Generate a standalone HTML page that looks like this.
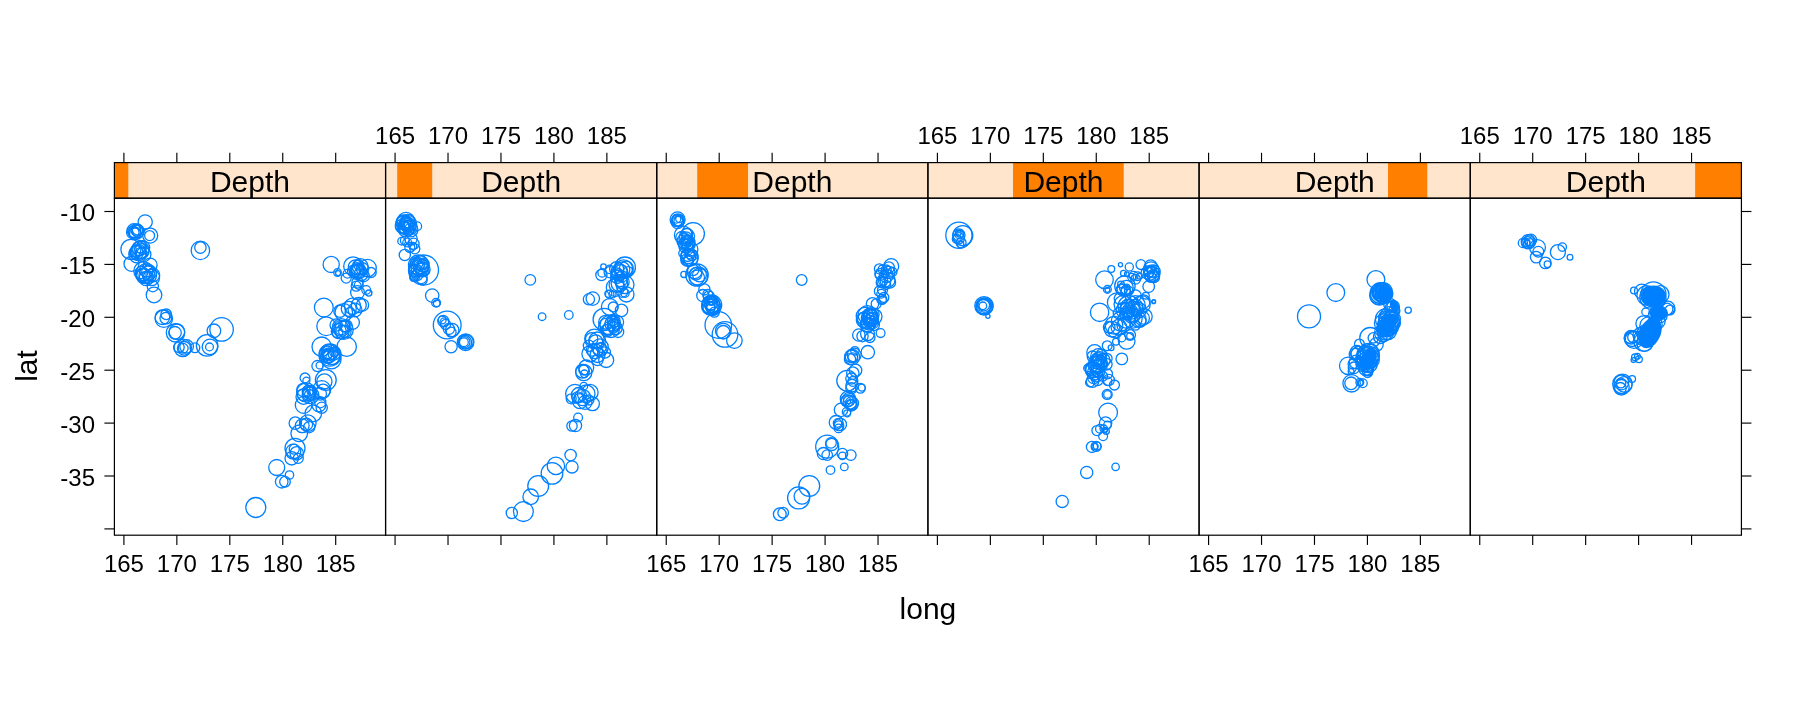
<!DOCTYPE html><html><head><meta charset="utf-8"><style>html,body{margin:0;padding:0;background:#fff;}svg{display:block;will-change:transform;}text{font-family:"Liberation Sans",sans-serif;fill:#000;}</style></head><body>
<svg width="1800" height="720" viewBox="0 0 1800 720">
<rect width="1800" height="720" fill="#fff"/>
<rect x="114.40" y="162.6" width="271.17" height="35.60" fill="#ffe5cc"/>
<rect x="114.40" y="162.6" width="13.90" height="35.60" fill="#ff7f00"/>
<text x="249.99" y="192" font-size="30" text-anchor="middle">Depth</text>
<rect x="385.57" y="162.6" width="271.17" height="35.60" fill="#ffe5cc"/>
<rect x="397.20" y="162.6" width="35.00" height="35.60" fill="#ff7f00"/>
<text x="521.16" y="192" font-size="30" text-anchor="middle">Depth</text>
<rect x="656.74" y="162.6" width="271.17" height="35.60" fill="#ffe5cc"/>
<rect x="697.21" y="162.6" width="50.80" height="35.60" fill="#ff7f00"/>
<text x="792.33" y="192" font-size="30" text-anchor="middle">Depth</text>
<rect x="927.91" y="162.6" width="271.17" height="35.60" fill="#ffe5cc"/>
<rect x="1013.01" y="162.6" width="110.70" height="35.60" fill="#ff7f00"/>
<text x="1063.49" y="192" font-size="30" text-anchor="middle">Depth</text>
<rect x="1199.08" y="162.6" width="271.17" height="35.60" fill="#ffe5cc"/>
<rect x="1387.98" y="162.6" width="39.30" height="35.60" fill="#ff7f00"/>
<text x="1334.67" y="192" font-size="30" text-anchor="middle">Depth</text>
<rect x="1470.25" y="162.6" width="271.17" height="35.60" fill="#ffe5cc"/>
<rect x="1695.15" y="162.6" width="46.27" height="35.60" fill="#ff7f00"/>
<text x="1605.84" y="192" font-size="30" text-anchor="middle">Depth</text>
<g fill="#0080ff">
<ellipse cx="1385.5" cy="294.0" rx="8.0" ry="8.0" transform="rotate(0 1385.5 294.0)"/>
<ellipse cx="1394.0" cy="306.0" rx="4.0" ry="6.0" transform="rotate(-20 1394.0 306.0)"/>
<ellipse cx="1387.0" cy="325.0" rx="8.0" ry="12.0" transform="rotate(23 1387.0 325.0)"/>
<ellipse cx="1368.5" cy="359.0" rx="7.5" ry="12.0" transform="rotate(20 1368.5 359.0)"/>
<ellipse cx="1653.5" cy="296.0" rx="12.5" ry="10.5" transform="rotate(0 1653.5 296.0)"/>
<ellipse cx="1659.0" cy="313.0" rx="9.0" ry="7.0" transform="rotate(0 1659.0 313.0)"/>
<ellipse cx="1650.0" cy="333.0" rx="10.5" ry="16.0" transform="rotate(25 1650.0 333.0)"/>
</g>
<g fill="none" stroke="#0080ff" stroke-width="1.3">
<circle cx="145.2" cy="221.9" r="7.1"/>
<circle cx="150.2" cy="235.6" r="7.5"/>
<circle cx="149.6" cy="235.6" r="5.0"/>
<circle cx="134.0" cy="230.6" r="6.9"/>
<circle cx="135.9" cy="231.9" r="7.5"/>
<circle cx="137.1" cy="230.0" r="6.2"/>
<circle cx="132.8" cy="232.5" r="6.2"/>
<circle cx="135.2" cy="233.8" r="5.6"/>
<circle cx="130.9" cy="249.4" r="10.0"/>
<circle cx="140.2" cy="250.0" r="8.8"/>
<circle cx="139.0" cy="248.8" r="6.9"/>
<circle cx="141.5" cy="251.2" r="7.5"/>
<circle cx="138.4" cy="252.5" r="8.1"/>
<circle cx="142.8" cy="247.5" r="6.9"/>
<circle cx="140.9" cy="253.1" r="5.6"/>
<circle cx="136.5" cy="251.2" r="6.2"/>
<circle cx="131.5" cy="263.8" r="7.5"/>
<circle cx="150.2" cy="265.0" r="6.9"/>
<circle cx="145.2" cy="273.8" r="9.4"/>
<circle cx="147.8" cy="275.0" r="8.8"/>
<circle cx="144.0" cy="276.2" r="7.5"/>
<circle cx="149.0" cy="272.5" r="7.5"/>
<circle cx="142.8" cy="275.0" r="6.9"/>
<circle cx="151.5" cy="277.5" r="8.1"/>
<circle cx="146.5" cy="270.0" r="6.9"/>
<circle cx="141.5" cy="272.5" r="6.2"/>
<circle cx="152.8" cy="275.0" r="6.9"/>
<circle cx="152.8" cy="286.2" r="5.6"/>
<circle cx="154.0" cy="295.0" r="7.8"/>
<circle cx="200.4" cy="250.4" r="9.2"/>
<circle cx="200.4" cy="247.6" r="5.7"/>
<circle cx="163.8" cy="318.7" r="8.7"/>
<circle cx="166.2" cy="314.3" r="5.3"/>
<circle cx="165.8" cy="318.2" r="5.8"/>
<circle cx="162.4" cy="317.2" r="7.3"/>
<circle cx="175.5" cy="332.8" r="9.2"/>
<circle cx="175.0" cy="332.8" r="6.3"/>
<circle cx="176.9" cy="331.8" r="7.8"/>
<circle cx="182.8" cy="347.8" r="8.7"/>
<circle cx="184.2" cy="348.3" r="6.8"/>
<circle cx="186.6" cy="346.4" r="6.8"/>
<circle cx="178.9" cy="347.3" r="5.3"/>
<circle cx="183.2" cy="348.3" r="4.9"/>
<circle cx="194.9" cy="347.8" r="4.9"/>
<circle cx="207.1" cy="345.4" r="10.7"/>
<circle cx="210.0" cy="346.9" r="7.8"/>
<circle cx="209.5" cy="346.9" r="3.9"/>
<circle cx="213.9" cy="330.8" r="6.8"/>
<circle cx="221.6" cy="329.4" r="11.7"/>
<circle cx="331.2" cy="264.4" r="8.1"/>
<circle cx="337.5" cy="272.5" r="3.8"/>
<circle cx="338.1" cy="273.1" r="2.5"/>
<circle cx="353.1" cy="266.2" r="9.4"/>
<circle cx="367.5" cy="268.1" r="8.8"/>
<circle cx="357.5" cy="268.8" r="6.2"/>
<circle cx="358.8" cy="271.2" r="7.5"/>
<circle cx="355.0" cy="271.2" r="5.6"/>
<circle cx="361.2" cy="273.8" r="6.9"/>
<circle cx="363.8" cy="276.2" r="5.6"/>
<circle cx="358.8" cy="265.0" r="5.0"/>
<circle cx="362.5" cy="268.8" r="6.2"/>
<circle cx="346.2" cy="278.1" r="5.0"/>
<circle cx="347.5" cy="273.8" r="4.4"/>
<circle cx="371.2" cy="272.5" r="5.0"/>
<circle cx="357.5" cy="282.5" r="5.6"/>
<circle cx="356.2" cy="286.2" r="5.0"/>
<circle cx="358.8" cy="285.0" r="4.4"/>
<circle cx="357.5" cy="292.5" r="6.9"/>
<circle cx="366.2" cy="290.0" r="4.4"/>
<circle cx="368.8" cy="293.1" r="3.1"/>
<circle cx="323.8" cy="307.5" r="9.4"/>
<circle cx="352.5" cy="306.2" r="8.1"/>
<circle cx="358.8" cy="305.0" r="7.5"/>
<circle cx="362.5" cy="305.0" r="6.2"/>
<circle cx="355.0" cy="310.0" r="6.9"/>
<circle cx="348.8" cy="308.8" r="7.5"/>
<circle cx="343.8" cy="312.5" r="8.8"/>
<circle cx="340.0" cy="311.2" r="6.2"/>
<circle cx="350.0" cy="312.5" r="5.0"/>
<circle cx="326.2" cy="326.2" r="9.4"/>
<circle cx="341.2" cy="327.5" r="8.8"/>
<circle cx="343.8" cy="330.0" r="9.4"/>
<circle cx="338.8" cy="331.2" r="7.5"/>
<circle cx="336.2" cy="325.0" r="6.2"/>
<circle cx="346.2" cy="326.2" r="6.2"/>
<circle cx="352.5" cy="322.5" r="6.9"/>
<circle cx="321.7" cy="346.7" r="9.7"/>
<circle cx="330.0" cy="355.0" r="11.1"/>
<circle cx="328.6" cy="353.6" r="9.0"/>
<circle cx="331.4" cy="356.4" r="8.3"/>
<circle cx="332.8" cy="357.8" r="6.9"/>
<circle cx="330.0" cy="352.2" r="7.6"/>
<circle cx="327.2" cy="356.4" r="6.9"/>
<circle cx="334.2" cy="353.6" r="6.2"/>
<circle cx="331.4" cy="359.2" r="9.7"/>
<circle cx="346.7" cy="346.7" r="9.7"/>
<circle cx="317.5" cy="366.1" r="5.6"/>
<circle cx="319.6" cy="365.4" r="3.5"/>
<circle cx="325.8" cy="380.0" r="10.4"/>
<circle cx="324.4" cy="381.4" r="7.6"/>
<circle cx="305.0" cy="377.9" r="4.9"/>
<circle cx="306.4" cy="380.7" r="3.5"/>
<circle cx="306.4" cy="392.5" r="9.7"/>
<circle cx="309.2" cy="393.9" r="6.9"/>
<circle cx="307.8" cy="391.1" r="5.6"/>
<circle cx="310.6" cy="395.3" r="8.3"/>
<circle cx="303.6" cy="396.7" r="7.6"/>
<circle cx="321.7" cy="389.7" r="9.0"/>
<circle cx="323.1" cy="391.1" r="6.9"/>
<circle cx="320.3" cy="393.9" r="6.2"/>
<circle cx="318.9" cy="405.0" r="6.9"/>
<circle cx="320.3" cy="402.2" r="5.6"/>
<circle cx="321.7" cy="407.8" r="5.6"/>
<circle cx="303.6" cy="405.0" r="8.3"/>
<circle cx="313.3" cy="413.3" r="8.3"/>
<circle cx="295.3" cy="423.1" r="6.2"/>
<circle cx="307.8" cy="423.1" r="8.3"/>
<circle cx="306.4" cy="424.4" r="6.2"/>
<circle cx="302.2" cy="425.8" r="6.9"/>
<circle cx="309.2" cy="427.2" r="5.6"/>
<circle cx="299.2" cy="433.3" r="8.3"/>
<circle cx="295.0" cy="448.3" r="10.0"/>
<circle cx="293.3" cy="451.7" r="7.5"/>
<circle cx="296.7" cy="453.3" r="6.7"/>
<circle cx="291.7" cy="458.3" r="6.7"/>
<circle cx="298.3" cy="458.3" r="5.0"/>
<circle cx="294.2" cy="449.2" r="5.0"/>
<circle cx="276.7" cy="467.5" r="8.0"/>
<circle cx="289.5" cy="475.0" r="4.2"/>
<circle cx="281.7" cy="481.7" r="6.3"/>
<circle cx="285.0" cy="481.7" r="5.3"/>
<circle cx="255.8" cy="507.5" r="10.0"/>
<circle cx="406.0" cy="221.2" r="8.8"/>
<circle cx="404.8" cy="225.0" r="9.4"/>
<circle cx="407.2" cy="226.2" r="8.8"/>
<circle cx="408.5" cy="223.8" r="8.1"/>
<circle cx="403.5" cy="222.5" r="7.5"/>
<circle cx="409.8" cy="227.5" r="7.5"/>
<circle cx="406.0" cy="228.8" r="8.1"/>
<circle cx="407.9" cy="221.2" r="6.9"/>
<circle cx="404.8" cy="227.5" r="6.2"/>
<circle cx="411.0" cy="230.0" r="6.9"/>
<circle cx="402.2" cy="226.2" r="6.9"/>
<circle cx="406.6" cy="223.8" r="5.6"/>
<circle cx="409.1" cy="225.6" r="5.0"/>
<circle cx="417.2" cy="226.2" r="4.4"/>
<circle cx="401.6" cy="241.2" r="3.8"/>
<circle cx="404.8" cy="240.6" r="4.4"/>
<circle cx="411.0" cy="238.8" r="6.2"/>
<circle cx="413.5" cy="243.8" r="5.6"/>
<circle cx="414.8" cy="248.8" r="5.0"/>
<circle cx="409.8" cy="247.5" r="5.0"/>
<circle cx="407.2" cy="242.5" r="4.4"/>
<circle cx="412.9" cy="246.2" r="3.8"/>
<circle cx="404.8" cy="255.0" r="5.6"/>
<circle cx="423.5" cy="270.0" r="15.0"/>
<circle cx="418.5" cy="265.0" r="10.0"/>
<circle cx="419.8" cy="267.5" r="8.8"/>
<circle cx="417.2" cy="268.8" r="8.1"/>
<circle cx="421.0" cy="266.2" r="7.5"/>
<circle cx="422.2" cy="270.0" r="6.9"/>
<circle cx="416.0" cy="271.2" r="6.9"/>
<circle cx="418.5" cy="263.8" r="6.2"/>
<circle cx="423.5" cy="263.8" r="5.6"/>
<circle cx="414.8" cy="276.2" r="5.0"/>
<circle cx="421.0" cy="277.5" r="6.2"/>
<circle cx="422.2" cy="280.0" r="5.0"/>
<circle cx="417.2" cy="275.0" r="5.6"/>
<circle cx="413.5" cy="277.5" r="3.8"/>
<circle cx="432.2" cy="295.6" r="6.7"/>
<circle cx="436.1" cy="302.8" r="4.4"/>
<circle cx="436.7" cy="303.3" r="3.3"/>
<circle cx="447.2" cy="325.0" r="13.9"/>
<circle cx="443.3" cy="321.1" r="5.6"/>
<circle cx="444.4" cy="322.2" r="4.4"/>
<circle cx="445.6" cy="324.4" r="5.0"/>
<circle cx="442.2" cy="320.0" r="3.9"/>
<circle cx="448.9" cy="328.9" r="5.6"/>
<circle cx="452.2" cy="330.0" r="6.7"/>
<circle cx="451.1" cy="332.2" r="5.0"/>
<circle cx="451.1" cy="346.7" r="6.1"/>
<circle cx="465.6" cy="342.2" r="8.3"/>
<circle cx="465.0" cy="342.2" r="6.7"/>
<circle cx="464.4" cy="342.2" r="5.6"/>
<circle cx="463.9" cy="342.2" r="4.4"/>
<circle cx="466.1" cy="341.7" r="7.2"/>
<circle cx="530.3" cy="279.9" r="5.3"/>
<circle cx="542.1" cy="316.7" r="3.8"/>
<circle cx="568.8" cy="315.0" r="4.3"/>
<circle cx="588.9" cy="299.3" r="5.6"/>
<circle cx="592.8" cy="298.6" r="6.7"/>
<circle cx="603.5" cy="266.7" r="2.8"/>
<circle cx="601.4" cy="275.0" r="5.6"/>
<circle cx="602.1" cy="272.9" r="4.2"/>
<circle cx="609.7" cy="269.4" r="4.2"/>
<circle cx="609.7" cy="272.2" r="5.6"/>
<circle cx="625.0" cy="267.4" r="10.4"/>
<circle cx="623.6" cy="268.8" r="9.0"/>
<circle cx="622.2" cy="269.4" r="7.6"/>
<circle cx="620.8" cy="270.8" r="6.2"/>
<circle cx="626.4" cy="268.1" r="6.9"/>
<circle cx="619.4" cy="272.2" r="8.3"/>
<circle cx="618.1" cy="275.0" r="6.2"/>
<circle cx="622.2" cy="276.4" r="5.6"/>
<circle cx="619.4" cy="283.3" r="8.3"/>
<circle cx="622.2" cy="281.9" r="6.9"/>
<circle cx="625.0" cy="284.7" r="9.0"/>
<circle cx="616.7" cy="284.7" r="7.6"/>
<circle cx="615.3" cy="287.5" r="9.0"/>
<circle cx="620.8" cy="280.6" r="6.2"/>
<circle cx="626.4" cy="294.4" r="7.6"/>
<circle cx="625.0" cy="293.1" r="4.2"/>
<circle cx="622.2" cy="291.7" r="5.6"/>
<circle cx="609.7" cy="294.4" r="4.2"/>
<circle cx="612.5" cy="294.4" r="3.5"/>
<circle cx="608.3" cy="293.8" r="3.5"/>
<circle cx="609.7" cy="306.9" r="8.3"/>
<circle cx="613.2" cy="306.9" r="4.9"/>
<circle cx="621.5" cy="310.4" r="6.2"/>
<circle cx="604.2" cy="319.4" r="11.1"/>
<circle cx="609.7" cy="325.0" r="9.7"/>
<circle cx="606.9" cy="326.4" r="8.3"/>
<circle cx="612.5" cy="323.6" r="7.6"/>
<circle cx="615.3" cy="327.8" r="6.9"/>
<circle cx="605.6" cy="322.2" r="6.9"/>
<circle cx="616.7" cy="322.2" r="6.9"/>
<circle cx="611.1" cy="329.2" r="8.3"/>
<circle cx="606.9" cy="330.6" r="6.2"/>
<circle cx="618.1" cy="331.9" r="5.6"/>
<circle cx="613.9" cy="320.8" r="6.2"/>
<circle cx="594.4" cy="338.9" r="9.7"/>
<circle cx="597.2" cy="340.3" r="8.3"/>
<circle cx="595.8" cy="341.7" r="6.9"/>
<circle cx="591.7" cy="338.9" r="6.2"/>
<circle cx="600.0" cy="347.2" r="8.3"/>
<circle cx="588.9" cy="345.8" r="5.6"/>
<circle cx="590.0" cy="353.8" r="8.1"/>
<circle cx="595.0" cy="351.2" r="7.5"/>
<circle cx="600.0" cy="350.0" r="6.9"/>
<circle cx="605.0" cy="352.5" r="5.6"/>
<circle cx="597.5" cy="355.0" r="7.5"/>
<circle cx="592.5" cy="350.0" r="6.2"/>
<circle cx="601.2" cy="347.5" r="5.0"/>
<circle cx="606.2" cy="360.0" r="7.5"/>
<circle cx="597.5" cy="360.0" r="5.6"/>
<circle cx="583.8" cy="372.5" r="8.1"/>
<circle cx="582.5" cy="371.2" r="6.9"/>
<circle cx="586.2" cy="367.5" r="7.5"/>
<circle cx="583.8" cy="370.0" r="5.0"/>
<circle cx="584.4" cy="373.8" r="3.8"/>
<circle cx="583.8" cy="386.2" r="3.8"/>
<circle cx="575.0" cy="393.8" r="9.4"/>
<circle cx="578.8" cy="395.0" r="7.5"/>
<circle cx="582.5" cy="397.5" r="8.1"/>
<circle cx="586.2" cy="393.8" r="8.8"/>
<circle cx="590.0" cy="392.5" r="8.1"/>
<circle cx="580.0" cy="401.2" r="7.5"/>
<circle cx="585.0" cy="402.5" r="6.9"/>
<circle cx="592.5" cy="403.8" r="6.9"/>
<circle cx="588.8" cy="400.0" r="5.0"/>
<circle cx="577.5" cy="397.5" r="5.6"/>
<circle cx="571.2" cy="398.8" r="5.0"/>
<circle cx="578.1" cy="417.5" r="4.4"/>
<circle cx="572.0" cy="426.0" r="5.2"/>
<circle cx="575.5" cy="425.6" r="6.1"/>
<circle cx="570.6" cy="455.1" r="5.7"/>
<circle cx="572.0" cy="466.9" r="6.1"/>
<circle cx="555.9" cy="465.9" r="8.7"/>
<circle cx="552.0" cy="473.4" r="10.8"/>
<circle cx="538.2" cy="486.0" r="10.4"/>
<circle cx="530.7" cy="496.8" r="7.8"/>
<circle cx="523.4" cy="511.6" r="9.9"/>
<circle cx="511.8" cy="513.0" r="5.6"/>
<circle cx="677.6" cy="219.4" r="7.5"/>
<circle cx="678.2" cy="220.0" r="6.2"/>
<circle cx="677.0" cy="220.6" r="5.6"/>
<circle cx="678.9" cy="221.2" r="5.0"/>
<circle cx="676.4" cy="218.8" r="4.4"/>
<circle cx="679.5" cy="218.8" r="3.8"/>
<circle cx="677.6" cy="222.5" r="6.2"/>
<circle cx="693.2" cy="233.8" r="11.2"/>
<circle cx="683.2" cy="235.0" r="8.8"/>
<circle cx="687.0" cy="236.2" r="7.5"/>
<circle cx="685.8" cy="238.8" r="6.9"/>
<circle cx="684.5" cy="241.2" r="7.5"/>
<circle cx="688.2" cy="242.5" r="6.9"/>
<circle cx="682.0" cy="237.5" r="6.2"/>
<circle cx="687.0" cy="233.8" r="5.6"/>
<circle cx="688.2" cy="245.0" r="6.2"/>
<circle cx="685.8" cy="246.2" r="6.9"/>
<circle cx="683.9" cy="243.8" r="5.6"/>
<circle cx="687.6" cy="240.0" r="5.0"/>
<circle cx="689.5" cy="257.5" r="8.8"/>
<circle cx="688.2" cy="256.2" r="7.5"/>
<circle cx="690.8" cy="258.8" r="6.9"/>
<circle cx="687.0" cy="260.0" r="6.2"/>
<circle cx="692.0" cy="255.0" r="5.6"/>
<circle cx="688.2" cy="261.2" r="5.0"/>
<circle cx="690.1" cy="253.8" r="5.0"/>
<circle cx="683.9" cy="274.4" r="3.1"/>
<circle cx="697.0" cy="275.0" r="11.2"/>
<circle cx="698.2" cy="276.2" r="9.4"/>
<circle cx="697.0" cy="277.5" r="7.5"/>
<circle cx="695.8" cy="273.8" r="6.2"/>
<circle cx="694.5" cy="271.2" r="7.5"/>
<circle cx="693.2" cy="270.0" r="5.6"/>
<circle cx="699.5" cy="275.0" r="6.9"/>
<circle cx="704.4" cy="289.4" r="5.6"/>
<circle cx="702.8" cy="295.6" r="6.1"/>
<circle cx="707.8" cy="294.4" r="5.0"/>
<circle cx="708.9" cy="296.7" r="5.6"/>
<circle cx="711.7" cy="305.0" r="10.0"/>
<circle cx="711.1" cy="305.6" r="8.9"/>
<circle cx="712.2" cy="304.4" r="7.8"/>
<circle cx="710.0" cy="306.7" r="8.3"/>
<circle cx="713.3" cy="306.1" r="7.2"/>
<circle cx="711.1" cy="303.3" r="6.7"/>
<circle cx="712.2" cy="307.8" r="6.1"/>
<circle cx="710.6" cy="305.0" r="5.6"/>
<circle cx="713.3" cy="308.9" r="6.7"/>
<circle cx="708.9" cy="307.8" r="6.1"/>
<circle cx="714.4" cy="312.2" r="5.0"/>
<circle cx="718.3" cy="325.0" r="13.3"/>
<circle cx="725.0" cy="334.4" r="12.8"/>
<circle cx="723.3" cy="331.1" r="7.8"/>
<circle cx="723.3" cy="332.2" r="6.7"/>
<circle cx="734.4" cy="340.6" r="7.8"/>
<circle cx="891.2" cy="266.2" r="7.5"/>
<circle cx="888.8" cy="267.5" r="5.6"/>
<circle cx="879.4" cy="268.8" r="5.0"/>
<circle cx="882.5" cy="269.4" r="4.4"/>
<circle cx="886.2" cy="270.0" r="5.0"/>
<circle cx="892.5" cy="271.9" r="4.4"/>
<circle cx="888.8" cy="272.5" r="6.2"/>
<circle cx="885.0" cy="273.8" r="3.8"/>
<circle cx="883.8" cy="281.2" r="6.9"/>
<circle cx="887.5" cy="280.0" r="7.5"/>
<circle cx="890.0" cy="282.5" r="5.6"/>
<circle cx="881.2" cy="282.5" r="5.0"/>
<circle cx="886.2" cy="285.0" r="4.4"/>
<circle cx="880.0" cy="291.2" r="5.6"/>
<circle cx="882.5" cy="290.0" r="5.0"/>
<circle cx="881.2" cy="293.8" r="4.4"/>
<circle cx="883.8" cy="297.5" r="5.0"/>
<circle cx="882.5" cy="300.0" r="3.8"/>
<circle cx="881.9" cy="299.4" r="5.0"/>
<circle cx="872.5" cy="303.8" r="6.2"/>
<circle cx="876.2" cy="303.8" r="5.0"/>
<circle cx="865.0" cy="316.2" r="8.8"/>
<circle cx="867.5" cy="315.0" r="9.4"/>
<circle cx="870.0" cy="317.5" r="8.1"/>
<circle cx="866.2" cy="320.0" r="8.8"/>
<circle cx="868.8" cy="322.5" r="7.5"/>
<circle cx="871.2" cy="320.0" r="6.9"/>
<circle cx="863.8" cy="320.0" r="7.5"/>
<circle cx="870.0" cy="313.8" r="5.6"/>
<circle cx="873.8" cy="325.0" r="5.6"/>
<circle cx="867.5" cy="325.0" r="6.9"/>
<circle cx="872.5" cy="322.5" r="6.2"/>
<circle cx="880.6" cy="333.1" r="4.4"/>
<circle cx="858.8" cy="335.0" r="6.2"/>
<circle cx="862.5" cy="336.2" r="5.6"/>
<circle cx="867.5" cy="333.8" r="6.9"/>
<circle cx="870.0" cy="337.5" r="5.0"/>
<circle cx="867.8" cy="352.2" r="6.7"/>
<circle cx="852.1" cy="357.1" r="7.6"/>
<circle cx="851.4" cy="356.4" r="6.2"/>
<circle cx="852.8" cy="357.8" r="4.9"/>
<circle cx="854.2" cy="355.0" r="6.9"/>
<circle cx="854.9" cy="350.8" r="4.2"/>
<circle cx="850.0" cy="359.2" r="5.6"/>
<circle cx="855.6" cy="370.3" r="6.2"/>
<circle cx="852.8" cy="373.1" r="6.2"/>
<circle cx="847.2" cy="380.7" r="10.4"/>
<circle cx="851.4" cy="378.6" r="5.6"/>
<circle cx="852.8" cy="381.4" r="4.9"/>
<circle cx="852.1" cy="385.6" r="6.2"/>
<circle cx="851.4" cy="388.3" r="5.6"/>
<circle cx="860.4" cy="388.3" r="4.9"/>
<circle cx="861.8" cy="387.6" r="3.5"/>
<circle cx="847.9" cy="398.8" r="7.6"/>
<circle cx="847.2" cy="400.8" r="6.2"/>
<circle cx="848.6" cy="398.1" r="5.6"/>
<circle cx="850.0" cy="402.2" r="6.9"/>
<circle cx="845.8" cy="400.8" r="4.9"/>
<circle cx="841.0" cy="409.9" r="6.7"/>
<circle cx="846.5" cy="411.9" r="4.2"/>
<circle cx="847.2" cy="413.3" r="3.5"/>
<circle cx="836.1" cy="422.4" r="6.9"/>
<circle cx="840.3" cy="424.4" r="6.2"/>
<circle cx="837.5" cy="423.1" r="4.2"/>
<circle cx="838.9" cy="425.8" r="4.9"/>
<circle cx="838.6" cy="428.4" r="4.3"/>
<circle cx="827.2" cy="446.7" r="11.5"/>
<circle cx="831.0" cy="442.9" r="5.3"/>
<circle cx="831.8" cy="444.4" r="6.1"/>
<circle cx="823.4" cy="453.6" r="6.1"/>
<circle cx="827.2" cy="455.1" r="5.3"/>
<circle cx="842.4" cy="453.6" r="5.3"/>
<circle cx="842.4" cy="455.9" r="3.8"/>
<circle cx="850.8" cy="455.1" r="5.3"/>
<circle cx="830.5" cy="470.1" r="4.3"/>
<circle cx="844.3" cy="466.9" r="3.8"/>
<circle cx="809.3" cy="486.0" r="10.4"/>
<circle cx="798.6" cy="497.9" r="11.0"/>
<circle cx="802.0" cy="496.3" r="7.9"/>
<circle cx="779.8" cy="514.2" r="6.4"/>
<circle cx="783.2" cy="512.7" r="5.3"/>
<circle cx="801.7" cy="280.0" r="5.3"/>
<circle cx="958.9" cy="235.3" r="13.1"/>
<circle cx="962.8" cy="235.6" r="10.0"/>
<circle cx="958.9" cy="235.0" r="6.1"/>
<circle cx="959.4" cy="234.4" r="4.4"/>
<circle cx="960.0" cy="233.9" r="3.3"/>
<circle cx="958.3" cy="233.3" r="2.8"/>
<circle cx="958.9" cy="238.3" r="5.6"/>
<circle cx="961.1" cy="242.8" r="5.0"/>
<circle cx="960.6" cy="244.4" r="3.3"/>
<circle cx="956.7" cy="238.9" r="4.4"/>
<circle cx="984.0" cy="305.8" r="9.2"/>
<circle cx="983.8" cy="306.0" r="7.9"/>
<circle cx="984.2" cy="305.6" r="6.7"/>
<circle cx="983.3" cy="306.7" r="7.1"/>
<circle cx="984.6" cy="306.2" r="8.3"/>
<circle cx="983.8" cy="305.0" r="5.8"/>
<circle cx="982.9" cy="305.8" r="3.8"/>
<circle cx="987.9" cy="316.2" r="2.1"/>
<circle cx="1120.5" cy="264.8" r="2.1"/>
<circle cx="1111.3" cy="269.0" r="3.4"/>
<circle cx="1129.3" cy="267.0" r="4.1"/>
<circle cx="1140.9" cy="264.6" r="4.9"/>
<circle cx="1150.7" cy="266.1" r="6.3"/>
<circle cx="1150.2" cy="273.3" r="6.8"/>
<circle cx="1152.1" cy="274.3" r="7.8"/>
<circle cx="1149.2" cy="272.4" r="4.9"/>
<circle cx="1153.1" cy="275.3" r="5.8"/>
<circle cx="1151.1" cy="269.5" r="4.4"/>
<circle cx="1154.1" cy="277.2" r="5.4"/>
<circle cx="1104.5" cy="279.7" r="8.8"/>
<circle cx="1107.4" cy="289.4" r="3.9"/>
<circle cx="1107.4" cy="289.9" r="2.4"/>
<circle cx="1123.4" cy="273.3" r="2.9"/>
<circle cx="1126.8" cy="274.3" r="2.4"/>
<circle cx="1133.6" cy="275.8" r="4.4"/>
<circle cx="1137.5" cy="276.3" r="4.4"/>
<circle cx="1139.5" cy="276.3" r="2.9"/>
<circle cx="1131.7" cy="277.2" r="3.9"/>
<circle cx="1135.6" cy="279.2" r="4.9"/>
<circle cx="1124.9" cy="286.0" r="10.2"/>
<circle cx="1121.0" cy="284.5" r="3.4"/>
<circle cx="1126.8" cy="287.0" r="2.9"/>
<circle cx="1128.8" cy="290.9" r="4.4"/>
<circle cx="1122.0" cy="288.9" r="4.9"/>
<circle cx="1148.7" cy="286.5" r="5.8"/>
<circle cx="1145.8" cy="295.7" r="3.4"/>
<circle cx="1153.6" cy="301.8" r="1.9"/>
<circle cx="1099.6" cy="312.3" r="9.2"/>
<circle cx="1117.1" cy="302.5" r="9.7"/>
<circle cx="1122.9" cy="304.5" r="8.8"/>
<circle cx="1128.8" cy="306.4" r="10.7"/>
<circle cx="1135.6" cy="305.4" r="9.7"/>
<circle cx="1141.4" cy="304.5" r="8.8"/>
<circle cx="1123.9" cy="310.3" r="7.8"/>
<circle cx="1131.7" cy="310.3" r="8.8"/>
<circle cx="1138.5" cy="310.3" r="7.8"/>
<circle cx="1120.0" cy="298.6" r="5.8"/>
<circle cx="1135.6" cy="295.7" r="5.8"/>
<circle cx="1143.4" cy="301.6" r="6.8"/>
<circle cx="1126.8" cy="313.2" r="6.8"/>
<circle cx="1133.6" cy="315.2" r="6.8"/>
<circle cx="1119.0" cy="313.2" r="5.8"/>
<circle cx="1132.5" cy="318.5" r="9.7"/>
<circle cx="1138.4" cy="319.5" r="7.8"/>
<circle cx="1126.7" cy="319.5" r="8.8"/>
<circle cx="1120.9" cy="321.4" r="9.7"/>
<circle cx="1114.0" cy="325.3" r="8.8"/>
<circle cx="1112.1" cy="329.2" r="7.8"/>
<circle cx="1115.0" cy="331.1" r="6.8"/>
<circle cx="1118.9" cy="327.2" r="7.8"/>
<circle cx="1123.8" cy="325.3" r="6.8"/>
<circle cx="1135.4" cy="325.3" r="4.9"/>
<circle cx="1140.3" cy="321.4" r="5.8"/>
<circle cx="1109.2" cy="327.2" r="5.8"/>
<circle cx="1130.1" cy="335.0" r="5.4"/>
<circle cx="1130.1" cy="336.0" r="3.4"/>
<circle cx="1126.7" cy="340.9" r="8.3"/>
<circle cx="1121.8" cy="337.9" r="3.9"/>
<circle cx="1116.0" cy="341.8" r="3.4"/>
<circle cx="1107.2" cy="345.7" r="4.9"/>
<circle cx="1111.1" cy="347.7" r="2.9"/>
<circle cx="1121.8" cy="358.9" r="5.8"/>
<circle cx="1153.9" cy="301.5" r="1.8"/>
<circle cx="1094.6" cy="352.5" r="7.8"/>
<circle cx="1098.5" cy="356.4" r="7.8"/>
<circle cx="1099.5" cy="358.4" r="6.8"/>
<circle cx="1103.3" cy="360.3" r="6.8"/>
<circle cx="1096.5" cy="360.3" r="5.8"/>
<circle cx="1107.2" cy="358.4" r="4.9"/>
<circle cx="1106.3" cy="364.2" r="5.8"/>
<circle cx="1101.4" cy="354.5" r="5.4"/>
<circle cx="1092.6" cy="356.4" r="5.4"/>
<circle cx="1090.7" cy="368.1" r="5.8"/>
<circle cx="1097.5" cy="367.1" r="6.8"/>
<circle cx="1087.5" cy="368.1" r="3.8"/>
<circle cx="1095.0" cy="372.5" r="7.5"/>
<circle cx="1096.2" cy="375.0" r="6.9"/>
<circle cx="1093.8" cy="377.5" r="6.2"/>
<circle cx="1092.5" cy="381.2" r="6.2"/>
<circle cx="1097.5" cy="380.0" r="5.6"/>
<circle cx="1090.0" cy="382.5" r="4.4"/>
<circle cx="1098.8" cy="371.2" r="6.2"/>
<circle cx="1102.5" cy="376.2" r="5.0"/>
<circle cx="1107.5" cy="373.8" r="5.0"/>
<circle cx="1108.8" cy="380.0" r="5.6"/>
<circle cx="1107.5" cy="381.2" r="4.4"/>
<circle cx="1114.4" cy="385.0" r="5.0"/>
<circle cx="1107.2" cy="394.4" r="5.0"/>
<circle cx="1107.5" cy="394.4" r="3.8"/>
<circle cx="1108.1" cy="412.5" r="9.4"/>
<circle cx="1105.6" cy="423.1" r="6.2"/>
<circle cx="1096.9" cy="430.6" r="5.0"/>
<circle cx="1100.0" cy="428.8" r="4.4"/>
<circle cx="1103.8" cy="428.8" r="3.8"/>
<circle cx="1105.0" cy="430.0" r="2.5"/>
<circle cx="1106.2" cy="431.2" r="3.1"/>
<circle cx="1103.1" cy="436.2" r="4.4"/>
<circle cx="1107.5" cy="425.0" r="3.8"/>
<circle cx="1092.0" cy="446.9" r="5.6"/>
<circle cx="1096.1" cy="446.4" r="5.0"/>
<circle cx="1097.2" cy="446.1" r="3.9"/>
<circle cx="1095.0" cy="446.4" r="3.1"/>
<circle cx="1115.6" cy="466.9" r="3.7"/>
<circle cx="1086.7" cy="472.4" r="6.1"/>
<circle cx="1062.2" cy="501.4" r="6.1"/>
<circle cx="1309.0" cy="316.4" r="11.5"/>
<circle cx="1335.8" cy="292.6" r="8.9"/>
<circle cx="1375.9" cy="279.6" r="8.9"/>
<circle cx="1408.2" cy="310.3" r="3.1"/>
<circle cx="1380.6" cy="293.1" r="10.4"/>
<circle cx="1381.7" cy="292.1" r="9.4"/>
<circle cx="1382.7" cy="294.2" r="8.9"/>
<circle cx="1379.6" cy="295.2" r="9.9"/>
<circle cx="1383.8" cy="291.0" r="8.3"/>
<circle cx="1380.6" cy="291.0" r="7.3"/>
<circle cx="1378.5" cy="296.2" r="8.3"/>
<circle cx="1381.7" cy="295.2" r="6.2"/>
<circle cx="1384.8" cy="293.1" r="7.3"/>
<circle cx="1379.6" cy="293.1" r="7.8"/>
<circle cx="1382.7" cy="290.0" r="6.2"/>
<circle cx="1383.8" cy="296.2" r="7.3"/>
<circle cx="1378.5" cy="292.1" r="6.2"/>
<circle cx="1381.7" cy="293.1" r="4.2"/>
<circle cx="1380.6" cy="294.2" r="5.2"/>
<circle cx="1390.0" cy="304.6" r="6.2"/>
<circle cx="1393.1" cy="306.7" r="6.2"/>
<circle cx="1392.1" cy="308.8" r="7.3"/>
<circle cx="1394.2" cy="310.8" r="5.7"/>
<circle cx="1385.8" cy="319.2" r="10.4"/>
<circle cx="1389.0" cy="321.2" r="10.4"/>
<circle cx="1387.9" cy="325.4" r="10.4"/>
<circle cx="1390.0" cy="323.3" r="9.4"/>
<circle cx="1386.9" cy="327.5" r="9.4"/>
<circle cx="1383.8" cy="323.3" r="9.4"/>
<circle cx="1392.1" cy="319.2" r="8.3"/>
<circle cx="1391.0" cy="317.1" r="7.3"/>
<circle cx="1389.0" cy="315.0" r="8.3"/>
<circle cx="1384.8" cy="317.1" r="6.2"/>
<circle cx="1385.8" cy="331.7" r="8.3"/>
<circle cx="1391.0" cy="327.5" r="7.3"/>
<circle cx="1387.9" cy="329.6" r="6.2"/>
<circle cx="1383.8" cy="329.6" r="7.3"/>
<circle cx="1394.2" cy="323.3" r="6.2"/>
<circle cx="1370.2" cy="337.9" r="10.4"/>
<circle cx="1373.3" cy="337.9" r="5.2"/>
<circle cx="1383.2" cy="332.8" r="8.7"/>
<circle cx="1388.0" cy="330.8" r="8.7"/>
<circle cx="1380.3" cy="336.7" r="6.8"/>
<circle cx="1376.4" cy="344.4" r="6.8"/>
<circle cx="1359.4" cy="344.0" r="4.9"/>
<circle cx="1368.6" cy="354.2" r="10.7"/>
<circle cx="1367.6" cy="358.0" r="10.7"/>
<circle cx="1366.6" cy="361.9" r="9.7"/>
<circle cx="1369.6" cy="356.1" r="9.7"/>
<circle cx="1365.7" cy="354.2" r="8.7"/>
<circle cx="1370.5" cy="352.2" r="7.8"/>
<circle cx="1364.7" cy="359.0" r="8.7"/>
<circle cx="1368.6" cy="363.9" r="8.7"/>
<circle cx="1363.7" cy="363.9" r="7.8"/>
<circle cx="1365.7" cy="368.7" r="6.8"/>
<circle cx="1367.6" cy="369.7" r="5.8"/>
<circle cx="1371.5" cy="360.0" r="7.8"/>
<circle cx="1362.8" cy="357.1" r="6.8"/>
<circle cx="1358.9" cy="354.2" r="7.8"/>
<circle cx="1356.9" cy="352.2" r="6.8"/>
<circle cx="1355.0" cy="354.2" r="5.8"/>
<circle cx="1348.2" cy="365.8" r="8.7"/>
<circle cx="1353.0" cy="363.9" r="4.9"/>
<circle cx="1356.0" cy="361.9" r="6.8"/>
<circle cx="1354.0" cy="367.8" r="5.8"/>
<circle cx="1351.6" cy="383.3" r="8.7"/>
<circle cx="1351.1" cy="383.3" r="6.3"/>
<circle cx="1362.8" cy="383.3" r="4.4"/>
<circle cx="1359.8" cy="382.3" r="3.9"/>
<circle cx="1367.6" cy="372.6" r="4.9"/>
<circle cx="1351.1" cy="371.6" r="2.9"/>
<circle cx="1360.3" cy="382.8" r="2.8"/>
<circle cx="1368.6" cy="371.7" r="4.2"/>
<circle cx="1528.3" cy="241.7" r="7.1"/>
<circle cx="1527.5" cy="242.5" r="5.8"/>
<circle cx="1525.8" cy="242.5" r="4.2"/>
<circle cx="1529.2" cy="240.8" r="5.0"/>
<circle cx="1522.9" cy="242.9" r="4.6"/>
<circle cx="1526.7" cy="243.3" r="3.3"/>
<circle cx="1530.0" cy="243.3" r="4.6"/>
<circle cx="1530.8" cy="240.0" r="5.8"/>
<circle cx="1537.5" cy="247.5" r="7.9"/>
<circle cx="1538.3" cy="251.7" r="5.4"/>
<circle cx="1536.2" cy="257.1" r="5.8"/>
<circle cx="1545.4" cy="262.9" r="5.8"/>
<circle cx="1547.5" cy="264.2" r="3.3"/>
<circle cx="1557.9" cy="252.1" r="7.5"/>
<circle cx="1562.3" cy="247.1" r="4.2"/>
<circle cx="1570.0" cy="257.3" r="2.9"/>
<circle cx="1634.0" cy="290.5" r="3.4"/>
<circle cx="1641.8" cy="291.5" r="7.3"/>
<circle cx="1653.4" cy="294.4" r="12.6"/>
<circle cx="1660.3" cy="294.4" r="8.7"/>
<circle cx="1646.6" cy="295.4" r="9.7"/>
<circle cx="1650.5" cy="297.4" r="10.7"/>
<circle cx="1658.3" cy="299.3" r="7.8"/>
<circle cx="1668.0" cy="308.0" r="6.8"/>
<circle cx="1670.0" cy="310.0" r="4.9"/>
<circle cx="1667.1" cy="309.0" r="5.8"/>
<circle cx="1645.7" cy="311.9" r="3.9"/>
<circle cx="1658.3" cy="312.9" r="7.8"/>
<circle cx="1660.3" cy="315.8" r="6.8"/>
<circle cx="1654.4" cy="313.9" r="5.8"/>
<circle cx="1643.7" cy="323.6" r="7.8"/>
<circle cx="1648.6" cy="325.5" r="8.7"/>
<circle cx="1654.4" cy="324.6" r="7.8"/>
<circle cx="1658.3" cy="321.6" r="6.8"/>
<circle cx="1651.5" cy="331.4" r="8.7"/>
<circle cx="1645.7" cy="333.3" r="8.7"/>
<circle cx="1640.8" cy="335.3" r="7.8"/>
<circle cx="1648.6" cy="338.2" r="7.8"/>
<circle cx="1631.1" cy="337.2" r="6.8"/>
<circle cx="1633.0" cy="337.2" r="5.3"/>
<circle cx="1629.2" cy="338.2" r="4.9"/>
<circle cx="1632.1" cy="338.7" r="7.8"/>
<circle cx="1634.0" cy="339.7" r="8.7"/>
<circle cx="1643.7" cy="341.7" r="9.7"/>
<circle cx="1644.7" cy="343.6" r="7.8"/>
<circle cx="1640.8" cy="337.8" r="6.8"/>
<circle cx="1635.0" cy="357.2" r="3.4"/>
<circle cx="1638.9" cy="359.2" r="3.4"/>
<circle cx="1637.4" cy="356.2" r="2.9"/>
<circle cx="1633.5" cy="360.1" r="2.4"/>
<circle cx="1622.4" cy="383.9" r="9.7"/>
<circle cx="1621.4" cy="382.5" r="7.3"/>
<circle cx="1620.9" cy="383.0" r="4.9"/>
<circle cx="1621.4" cy="387.3" r="7.8"/>
<circle cx="1624.3" cy="384.4" r="7.8"/>
<circle cx="1620.4" cy="388.3" r="5.8"/>
<circle cx="1632.1" cy="379.1" r="3.4"/>
<circle cx="137.6" cy="229.7" r="5.3"/>
<circle cx="134.8" cy="233.2" r="6.2"/>
<circle cx="138.2" cy="231.3" r="6.1"/>
<circle cx="143.6" cy="254.5" r="7.3"/>
<circle cx="136.4" cy="252.7" r="7.0"/>
<circle cx="140.1" cy="246.6" r="6.3"/>
<circle cx="137.5" cy="254.3" r="8.7"/>
<circle cx="142.9" cy="274.9" r="6.6"/>
<circle cx="147.9" cy="275.9" r="5.3"/>
<circle cx="143.2" cy="271.1" r="9.4"/>
<circle cx="146.1" cy="278.6" r="7.1"/>
<circle cx="357.3" cy="271.8" r="7.7"/>
<circle cx="357.5" cy="271.3" r="6.3"/>
<circle cx="354.1" cy="271.3" r="6.5"/>
<circle cx="355.5" cy="267.1" r="7.2"/>
<circle cx="360.2" cy="266.6" r="7.9"/>
<circle cx="342.3" cy="332.1" r="6.7"/>
<circle cx="341.1" cy="327.5" r="7.2"/>
<circle cx="344.9" cy="331.4" r="6.2"/>
<circle cx="344.5" cy="325.9" r="5.8"/>
<circle cx="337.5" cy="332.4" r="5.3"/>
<circle cx="328.4" cy="356.9" r="6.1"/>
<circle cx="334.3" cy="351.9" r="4.7"/>
<circle cx="327.3" cy="352.3" r="6.2"/>
<circle cx="327.1" cy="355.3" r="4.6"/>
<circle cx="328.7" cy="354.3" r="6.5"/>
<circle cx="303.3" cy="394.8" r="6.0"/>
<circle cx="311.6" cy="390.5" r="4.8"/>
<circle cx="309.5" cy="394.4" r="4.9"/>
<circle cx="309.0" cy="391.8" r="6.3"/>
<circle cx="303.4" cy="390.0" r="6.7"/>
<circle cx="403.5" cy="227.3" r="6.1"/>
<circle cx="405.8" cy="223.1" r="6.7"/>
<circle cx="408.3" cy="225.7" r="5.6"/>
<circle cx="405.0" cy="226.4" r="4.0"/>
<circle cx="408.2" cy="223.3" r="4.6"/>
<circle cx="416.4" cy="263.7" r="6.2"/>
<circle cx="417.8" cy="271.4" r="4.6"/>
<circle cx="423.1" cy="265.7" r="6.0"/>
<circle cx="422.9" cy="269.4" r="7.2"/>
<circle cx="420.9" cy="263.0" r="7.1"/>
<circle cx="419.9" cy="265.6" r="4.5"/>
<circle cx="620.5" cy="275.9" r="4.6"/>
<circle cx="616.6" cy="268.7" r="7.0"/>
<circle cx="617.1" cy="276.9" r="6.6"/>
<circle cx="616.9" cy="273.6" r="5.8"/>
<circle cx="628.2" cy="271.4" r="4.8"/>
<circle cx="607.6" cy="329.8" r="5.5"/>
<circle cx="612.6" cy="320.2" r="5.5"/>
<circle cx="614.1" cy="325.3" r="6.8"/>
<circle cx="614.6" cy="323.5" r="4.0"/>
<circle cx="685.8" cy="239.5" r="4.7"/>
<circle cx="691.1" cy="249.2" r="6.8"/>
<circle cx="687.5" cy="243.7" r="6.9"/>
<circle cx="687.8" cy="254.9" r="6.6"/>
<circle cx="690.4" cy="245.3" r="4.6"/>
<circle cx="683.5" cy="253.2" r="4.7"/>
<circle cx="688.5" cy="250.4" r="4.2"/>
<circle cx="712.1" cy="300.3" r="4.8"/>
<circle cx="708.8" cy="307.4" r="6.0"/>
<circle cx="710.4" cy="300.3" r="4.7"/>
<circle cx="711.0" cy="300.3" r="4.6"/>
<circle cx="865.9" cy="318.0" r="4.6"/>
<circle cx="872.9" cy="314.2" r="6.2"/>
<circle cx="874.1" cy="316.6" r="7.9"/>
<circle cx="871.8" cy="318.7" r="6.5"/>
<circle cx="870.0" cy="316.0" r="8.0"/>
<circle cx="867.8" cy="324.8" r="7.4"/>
<circle cx="868.7" cy="322.4" r="4.7"/>
<circle cx="870.4" cy="316.1" r="7.1"/>
<circle cx="886.3" cy="275.8" r="6.8"/>
<circle cx="883.1" cy="281.0" r="4.5"/>
<circle cx="880.8" cy="274.2" r="5.9"/>
<circle cx="879.3" cy="274.6" r="4.0"/>
<circle cx="850.9" cy="404.9" r="5.4"/>
<circle cx="851.7" cy="405.4" r="5.6"/>
<circle cx="851.9" cy="403.3" r="6.6"/>
<circle cx="1131.9" cy="315.2" r="8.0"/>
<circle cx="1127.3" cy="310.1" r="7.5"/>
<circle cx="1131.6" cy="310.9" r="6.0"/>
<circle cx="1127.6" cy="306.7" r="7.2"/>
<circle cx="1142.2" cy="318.2" r="7.2"/>
<circle cx="1127.8" cy="312.5" r="4.7"/>
<circle cx="1137.9" cy="309.5" r="5.5"/>
<circle cx="1144.4" cy="316.6" r="7.8"/>
<circle cx="1135.3" cy="306.9" r="7.6"/>
<circle cx="1150.6" cy="277.0" r="5.4"/>
<circle cx="1151.1" cy="269.6" r="7.8"/>
<circle cx="1147.2" cy="272.7" r="6.1"/>
<circle cx="1153.8" cy="271.4" r="6.4"/>
<circle cx="1147.6" cy="270.1" r="4.3"/>
<circle cx="1097.3" cy="363.9" r="7.6"/>
<circle cx="1097.8" cy="359.7" r="7.0"/>
<circle cx="1092.9" cy="370.6" r="7.4"/>
<circle cx="1099.3" cy="362.4" r="7.4"/>
<circle cx="1102.5" cy="364.6" r="5.1"/>
<circle cx="1100.6" cy="362.6" r="6.5"/>
<circle cx="1097.1" cy="370.8" r="5.9"/>
<circle cx="1094.5" cy="376.0" r="4.1"/>
<circle cx="1096.1" cy="364.6" r="7.9"/>
<circle cx="1093.4" cy="369.6" r="7.8"/>
<circle cx="1121.7" cy="289.6" r="5.6"/>
<circle cx="1125.6" cy="291.6" r="4.8"/>
<circle cx="1125.8" cy="289.8" r="4.6"/>
<circle cx="1126.3" cy="287.3" r="6.9"/>
</g>
<g stroke="#000" stroke-width="1.2" fill="none">
<rect x="114.40" y="162.6" width="271.17" height="35.60"/>
<rect x="114.40" y="198.2" width="271.17" height="337.00"/>
<rect x="385.57" y="162.6" width="271.17" height="35.60"/>
<rect x="385.57" y="198.2" width="271.17" height="337.00"/>
<rect x="656.74" y="162.6" width="271.17" height="35.60"/>
<rect x="656.74" y="198.2" width="271.17" height="337.00"/>
<rect x="927.91" y="162.6" width="271.17" height="35.60"/>
<rect x="927.91" y="198.2" width="271.17" height="337.00"/>
<rect x="1199.08" y="162.6" width="271.17" height="35.60"/>
<rect x="1199.08" y="198.2" width="271.17" height="337.00"/>
<rect x="1470.25" y="162.6" width="271.17" height="35.60"/>
<rect x="1470.25" y="198.2" width="271.17" height="337.00"/>
</g>
<g stroke="#000" stroke-width="1.15" fill="none">
<line x1="123.90" y1="152.8" x2="123.90" y2="162.6"/>
<line x1="123.90" y1="535.2" x2="123.90" y2="544.9"/>
<line x1="176.85" y1="152.8" x2="176.85" y2="162.6"/>
<line x1="176.85" y1="535.2" x2="176.85" y2="544.9"/>
<line x1="229.80" y1="152.8" x2="229.80" y2="162.6"/>
<line x1="229.80" y1="535.2" x2="229.80" y2="544.9"/>
<line x1="282.75" y1="152.8" x2="282.75" y2="162.6"/>
<line x1="282.75" y1="535.2" x2="282.75" y2="544.9"/>
<line x1="335.70" y1="152.8" x2="335.70" y2="162.6"/>
<line x1="335.70" y1="535.2" x2="335.70" y2="544.9"/>
<line x1="395.07" y1="152.8" x2="395.07" y2="162.6"/>
<line x1="395.07" y1="535.2" x2="395.07" y2="544.9"/>
<line x1="448.02" y1="152.8" x2="448.02" y2="162.6"/>
<line x1="448.02" y1="535.2" x2="448.02" y2="544.9"/>
<line x1="500.97" y1="152.8" x2="500.97" y2="162.6"/>
<line x1="500.97" y1="535.2" x2="500.97" y2="544.9"/>
<line x1="553.92" y1="152.8" x2="553.92" y2="162.6"/>
<line x1="553.92" y1="535.2" x2="553.92" y2="544.9"/>
<line x1="606.87" y1="152.8" x2="606.87" y2="162.6"/>
<line x1="606.87" y1="535.2" x2="606.87" y2="544.9"/>
<line x1="666.24" y1="152.8" x2="666.24" y2="162.6"/>
<line x1="666.24" y1="535.2" x2="666.24" y2="544.9"/>
<line x1="719.19" y1="152.8" x2="719.19" y2="162.6"/>
<line x1="719.19" y1="535.2" x2="719.19" y2="544.9"/>
<line x1="772.14" y1="152.8" x2="772.14" y2="162.6"/>
<line x1="772.14" y1="535.2" x2="772.14" y2="544.9"/>
<line x1="825.09" y1="152.8" x2="825.09" y2="162.6"/>
<line x1="825.09" y1="535.2" x2="825.09" y2="544.9"/>
<line x1="878.04" y1="152.8" x2="878.04" y2="162.6"/>
<line x1="878.04" y1="535.2" x2="878.04" y2="544.9"/>
<line x1="937.41" y1="152.8" x2="937.41" y2="162.6"/>
<line x1="937.41" y1="535.2" x2="937.41" y2="544.9"/>
<line x1="990.36" y1="152.8" x2="990.36" y2="162.6"/>
<line x1="990.36" y1="535.2" x2="990.36" y2="544.9"/>
<line x1="1043.31" y1="152.8" x2="1043.31" y2="162.6"/>
<line x1="1043.31" y1="535.2" x2="1043.31" y2="544.9"/>
<line x1="1096.26" y1="152.8" x2="1096.26" y2="162.6"/>
<line x1="1096.26" y1="535.2" x2="1096.26" y2="544.9"/>
<line x1="1149.21" y1="152.8" x2="1149.21" y2="162.6"/>
<line x1="1149.21" y1="535.2" x2="1149.21" y2="544.9"/>
<line x1="1208.58" y1="152.8" x2="1208.58" y2="162.6"/>
<line x1="1208.58" y1="535.2" x2="1208.58" y2="544.9"/>
<line x1="1261.53" y1="152.8" x2="1261.53" y2="162.6"/>
<line x1="1261.53" y1="535.2" x2="1261.53" y2="544.9"/>
<line x1="1314.48" y1="152.8" x2="1314.48" y2="162.6"/>
<line x1="1314.48" y1="535.2" x2="1314.48" y2="544.9"/>
<line x1="1367.43" y1="152.8" x2="1367.43" y2="162.6"/>
<line x1="1367.43" y1="535.2" x2="1367.43" y2="544.9"/>
<line x1="1420.38" y1="152.8" x2="1420.38" y2="162.6"/>
<line x1="1420.38" y1="535.2" x2="1420.38" y2="544.9"/>
<line x1="1479.75" y1="152.8" x2="1479.75" y2="162.6"/>
<line x1="1479.75" y1="535.2" x2="1479.75" y2="544.9"/>
<line x1="1532.70" y1="152.8" x2="1532.70" y2="162.6"/>
<line x1="1532.70" y1="535.2" x2="1532.70" y2="544.9"/>
<line x1="1585.65" y1="152.8" x2="1585.65" y2="162.6"/>
<line x1="1585.65" y1="535.2" x2="1585.65" y2="544.9"/>
<line x1="1638.60" y1="152.8" x2="1638.60" y2="162.6"/>
<line x1="1638.60" y1="535.2" x2="1638.60" y2="544.9"/>
<line x1="1691.55" y1="152.8" x2="1691.55" y2="162.6"/>
<line x1="1691.55" y1="535.2" x2="1691.55" y2="544.9"/>
<line x1="104.4" y1="211.50" x2="114.4" y2="211.50"/>
<line x1="1741.42" y1="211.50" x2="1751.42" y2="211.50"/>
<line x1="104.4" y1="264.40" x2="114.4" y2="264.40"/>
<line x1="1741.42" y1="264.40" x2="1751.42" y2="264.40"/>
<line x1="104.4" y1="317.30" x2="114.4" y2="317.30"/>
<line x1="1741.42" y1="317.30" x2="1751.42" y2="317.30"/>
<line x1="104.4" y1="370.20" x2="114.4" y2="370.20"/>
<line x1="1741.42" y1="370.20" x2="1751.42" y2="370.20"/>
<line x1="104.4" y1="423.10" x2="114.4" y2="423.10"/>
<line x1="1741.42" y1="423.10" x2="1751.42" y2="423.10"/>
<line x1="104.4" y1="476.00" x2="114.4" y2="476.00"/>
<line x1="1741.42" y1="476.00" x2="1751.42" y2="476.00"/>
<line x1="104.4" y1="528.90" x2="114.4" y2="528.90"/>
<line x1="1741.42" y1="528.90" x2="1751.42" y2="528.90"/>
</g>
<text x="123.90" y="571.7" font-size="24" text-anchor="middle">165</text>
<text x="176.85" y="571.7" font-size="24" text-anchor="middle">170</text>
<text x="229.80" y="571.7" font-size="24" text-anchor="middle">175</text>
<text x="282.75" y="571.7" font-size="24" text-anchor="middle">180</text>
<text x="335.70" y="571.7" font-size="24" text-anchor="middle">185</text>
<text x="395.07" y="144" font-size="24" text-anchor="middle">165</text>
<text x="448.02" y="144" font-size="24" text-anchor="middle">170</text>
<text x="500.97" y="144" font-size="24" text-anchor="middle">175</text>
<text x="553.92" y="144" font-size="24" text-anchor="middle">180</text>
<text x="606.87" y="144" font-size="24" text-anchor="middle">185</text>
<text x="666.24" y="571.7" font-size="24" text-anchor="middle">165</text>
<text x="719.19" y="571.7" font-size="24" text-anchor="middle">170</text>
<text x="772.14" y="571.7" font-size="24" text-anchor="middle">175</text>
<text x="825.09" y="571.7" font-size="24" text-anchor="middle">180</text>
<text x="878.04" y="571.7" font-size="24" text-anchor="middle">185</text>
<text x="937.41" y="144" font-size="24" text-anchor="middle">165</text>
<text x="990.36" y="144" font-size="24" text-anchor="middle">170</text>
<text x="1043.31" y="144" font-size="24" text-anchor="middle">175</text>
<text x="1096.26" y="144" font-size="24" text-anchor="middle">180</text>
<text x="1149.21" y="144" font-size="24" text-anchor="middle">185</text>
<text x="1208.58" y="571.7" font-size="24" text-anchor="middle">165</text>
<text x="1261.53" y="571.7" font-size="24" text-anchor="middle">170</text>
<text x="1314.48" y="571.7" font-size="24" text-anchor="middle">175</text>
<text x="1367.43" y="571.7" font-size="24" text-anchor="middle">180</text>
<text x="1420.38" y="571.7" font-size="24" text-anchor="middle">185</text>
<text x="1479.75" y="144" font-size="24" text-anchor="middle">165</text>
<text x="1532.70" y="144" font-size="24" text-anchor="middle">170</text>
<text x="1585.65" y="144" font-size="24" text-anchor="middle">175</text>
<text x="1638.60" y="144" font-size="24" text-anchor="middle">180</text>
<text x="1691.55" y="144" font-size="24" text-anchor="middle">185</text>
<text x="95" y="221.20" font-size="24" text-anchor="end">-10</text>
<text x="95" y="274.10" font-size="24" text-anchor="end">-15</text>
<text x="95" y="327.00" font-size="24" text-anchor="end">-20</text>
<text x="95" y="379.90" font-size="24" text-anchor="end">-25</text>
<text x="95" y="432.80" font-size="24" text-anchor="end">-30</text>
<text x="95" y="485.70" font-size="24" text-anchor="end">-35</text>
<text x="927.9" y="618.9" font-size="30" text-anchor="middle">long</text>
<text transform="translate(37,366) rotate(-90)" x="0" y="0" font-size="30" text-anchor="middle">lat</text>
</svg></body></html>
